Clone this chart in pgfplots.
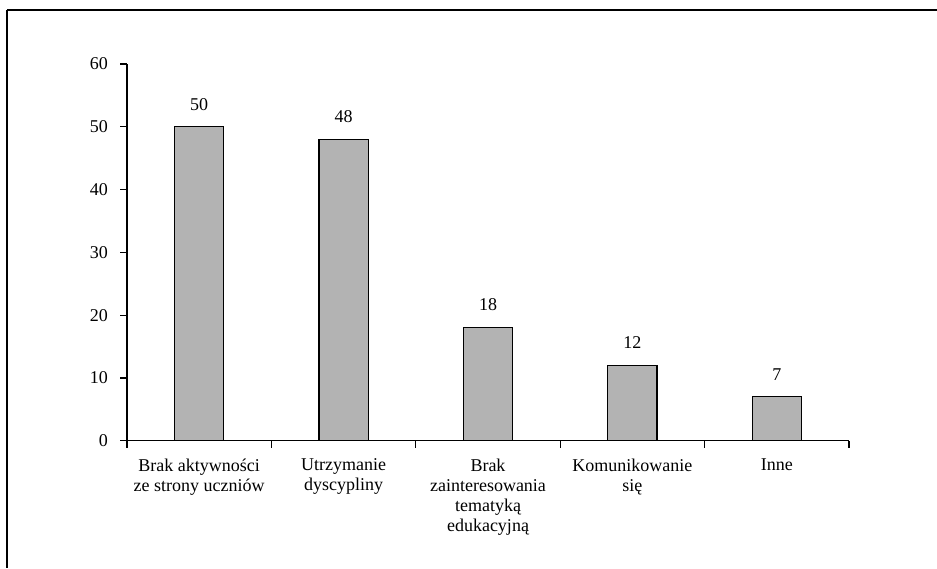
\documentclass[border=0pt]{standalone}
\usepackage{pgfplots}
\pgfplotsset{compat=1.18}
\usepackage{fontspec}
\setmainfont{Liberation Serif}
\definecolor{barfill}{RGB}{179,179,179}

\begin{document}
\fontsize{18}{20}\selectfont
\begin{tikzpicture}
\useasboundingbox (0,0) rectangle (937pt,568pt);
% frame: top and left edges
\draw[line width=1.3pt] (7pt,558pt) -- (937pt,558pt);
\draw[line width=1.3pt] (7pt,558pt) -- (7pt,0pt);
\begin{axis}[
  at={(127pt,127.3pt)}, anchor=south west,
  scale only axis,
  width=722pt, height=376.7pt,
  xmin=-0.5, xmax=4.5,
  ymin=0, ymax=60,
  axis x line*=bottom, axis y line*=left,
  axis line style={line width=1.2pt},
  ytick={0,10,...,60},
  xtick={0,1,2,3,4},
  xticklabels={{Brak aktywności\\ze strony uczniów},{Utrzymanie\\dyscypliny},{Brak\\zainteresowania\\tematyką\\edukacyjną},{Komunikowanie\\się},{Inne}},
  minor xtick={-0.5,0.5,1.5,2.5,3.5,4.5},
  tick align=outside,
  major x tick style={draw=none},
  minor tick length=7pt,
  major tick length=7pt,
  tick style={line width=1.2pt, black},
  xticklabel style={align=center, font=\fontsize{18}{20}\selectfont, yshift=-5pt},
  yticklabel style={font=\fontsize{18}{20}\selectfont, xshift=-6pt},
  /pgf/number format/assume math mode=true,
  ybar, bar width=0.34,
  nodes near coords,
  every node near coord/.append style={font=\fontsize{18}{20}\selectfont, yshift=10pt},
  clip=false,
]
\addplot[fill=barfill, draw=black, line width=1.2pt] coordinates {(0,50) (1,48) (2,18) (3,12) (4,7)};
\end{axis}
\end{tikzpicture}
\end{document}
